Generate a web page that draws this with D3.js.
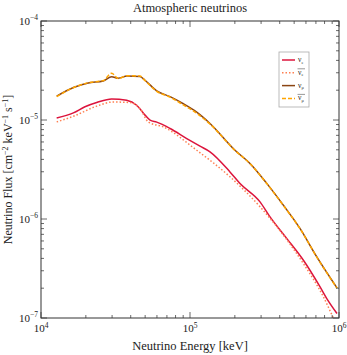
<!DOCTYPE html>
<html>
<head>
<meta charset="utf-8">
<script src="https://cdn.jsdelivr.net/npm/d3@7"></script>
<style>
body { margin: 0; background: #fff; }
text { font-family: "Liberation Serif", "DejaVu Serif", serif; fill: #222; }
</style>
</head>
<body>
<div id="chart"></div>
<script>
// values (energy in keV, flux in cm^-2 keV^-1 s^-1)
var energyMu = [12740, 16500, 20760, 26170, 29800, 33000, 37800, 46100, 49900, 59800, 73500,
    90200, 110900, 136200, 200400, 252700, 327500, 423000, 547000, 708000, 970000];
var fluxNuMu = [1.74e-5, 2.13e-5, 2.37e-5, 2.48e-5, 2.74e-5, 2.64e-5, 2.78e-5, 2.75e-5, 2.52e-5, 1.97e-5, 1.72e-5,
    1.46e-5, 1.20e-5, 9.23e-6, 4.95e-6, 3.64e-6, 2.29e-6, 1.38e-6, 8.03e-7, 4.16e-7, 2.01e-7];
var fluxNuMuBar = [1.72e-5, 2.12e-5, 2.38e-5, 2.50e-5, 2.97e-5, 2.62e-5, 2.80e-5, 2.78e-5, 2.50e-5, 1.95e-5, 1.70e-5,
    1.42e-5, 1.17e-5, 9.10e-6, 4.92e-6, 3.62e-6, 2.28e-6, 1.37e-6, 8.0e-7, 4.14e-7, 2.0e-7];

var energyE = [12740, 16500, 19720, 23660, 29800, 37560, 43850, 49900, 53950, 59800, 73500,
    95100, 116700, 136200, 185400, 216600, 295000, 344500, 445500, 575500, 744700, 826000, 970000];
var fluxNuE = [1.05e-5, 1.18e-5, 1.36e-5, 1.50e-5, 1.63e-5, 1.58e-5, 1.41e-5, 1.12e-5, 9.96e-6, 9.51e-6, 8.21e-6,
    6.50e-6, 5.44e-6, 4.77e-6, 2.99e-6, 2.28e-6, 1.49e-6, 1.05e-6, 6.37e-7, 3.85e-7, 2.07e-7, 1.58e-7, 1.11e-7];

var energyEBar = [12740, 16500, 23660, 30400, 39500, 46100, 52500, 66200, 110900, 185400, 295000,
    423000, 575500, 785000, 916000];
var fluxNuEBar = [9.57e-6, 1.09e-5, 1.38e-5, 1.52e-5, 1.50e-5, 1.31e-5, 9.57e-6, 8.51e-6, 4.95e-6, 2.67e-6, 1.33e-6,
    6.89e-7, 3.56e-7, 1.64e-7, 1.0e-7];

var series = [
    {name: "e", bar: false, x: energyE, y: fluxNuE, color: "#dc143c", dash: null, width: 1.5},
    {name: "e", bar: true, x: energyEBar, y: fluxNuEBar, color: "#ff7f50", dash: "1.5,2", width: 1.5},
    {name: "\u03bc", bar: false, x: energyMu, y: fluxNuMu, color: "#8b4513", dash: null, width: 1.5},
    {name: "\u03bc", bar: true, x: energyMu, y: fluxNuMuBar, color: "#ffa500", dash: "4,2", width: 1.5}
];

var W = 347, H = 355;
var m = {left: 41, right: 8, top: 21, bottom: 37};

var svg = d3.select("#chart").append("svg")
    .attr("width", W)
    .attr("height", H);

var x = d3.scaleLog().domain([1e4, 1e6]).range([m.left, W - m.right]);
var y = d3.scaleLog().domain([1e-7, 1e-4]).range([H - m.bottom, m.top]);

var x0 = x.range()[0], x1 = x.range()[1];
var y0 = y.range()[0], y1 = y.range()[1];

// curves
var line = d3.line().curve(d3.curveMonotoneX);
series.forEach(function(s) {
    var pts = s.x.map(function(e, i) { return [x(e), y(s.y[i])]; });
    svg.append("path")
        .attr("d", line(pts))
        .attr("fill", "none")
        .attr("stroke", s.color)
        .attr("stroke-width", s.width)
        .attr("stroke-dasharray", s.dash);
});

// ticks, all pointing inwards on the four sides
var ticks = svg.append("g").attr("stroke", "#444").attr("stroke-width", 0.8);
function minors(lo, hi) {
    var out = [];
    for (var k = lo; k < hi; k++)
        for (var j = 1; j < 10; j++) out.push({v: j * Math.pow(10, k), major: j === 1});
    out.push({v: Math.pow(10, hi), major: true});
    return out;
}
minors(4, 6).forEach(function(t) {
    var len = t.major ? 6 : 3;
    ticks.append("line").attr("x1", x(t.v)).attr("x2", x(t.v)).attr("y1", y0).attr("y2", y0 - len);
    ticks.append("line").attr("x1", x(t.v)).attr("x2", x(t.v)).attr("y1", y1).attr("y2", y1 + len);
});
minors(-7, -4).forEach(function(t) {
    var len = t.major ? 6 : 3;
    ticks.append("line").attr("y1", y(t.v)).attr("y2", y(t.v)).attr("x1", x0).attr("x2", x0 + len);
    ticks.append("line").attr("y1", y(t.v)).attr("y2", y(t.v)).attr("x1", x1).attr("x2", x1 - len);
});

svg.append("rect")
    .attr("x", x0).attr("y", y1)
    .attr("width", x1 - x0).attr("height", y0 - y1)
    .attr("fill", "none").attr("stroke", "#333").attr("stroke-width", 1);

// tick labels
function powLabel(sel, exp) {
    sel.append("tspan").text("10");
    sel.append("tspan").attr("dy", -4.5).attr("font-size", 7.5).text(exp);
}
[4, 5, 6].forEach(function(k) {
    var t = svg.append("text").attr("x", x(Math.pow(10, k))).attr("y", y0 + 14)
        .attr("text-anchor", "middle").attr("font-size", 11);
    powLabel(t, k);
});
[-7, -6, -5, -4].forEach(function(k) {
    var t = svg.append("text").attr("x", x0 - 3).attr("y", y(Math.pow(10, k)) + 3.5)
        .attr("text-anchor", "end").attr("font-size", 11);
    powLabel(t, "\u2212" + (-k));
});

// titles
svg.append("text").attr("x", (x0 + x1) / 2).attr("y", 12)
    .attr("text-anchor", "middle").attr("font-size", 12.5).text("Atmospheric neutrinos");
svg.append("text").attr("x", (x0 + x1) / 2).attr("y", 350)
    .attr("text-anchor", "middle").attr("font-size", 12.5).text("Neutrino Energy [keV]");

var yl = svg.append("text")
    .attr("transform", "translate(12," + ((y0 + y1) / 2) + ") rotate(-90)")
    .attr("text-anchor", "middle").attr("font-size", 12);
yl.append("tspan").text("Neutrino Flux [cm");
yl.append("tspan").attr("dy", -4.5).attr("font-size", 8).text("\u22122");
yl.append("tspan").attr("dy", 4.5).text(" keV");
yl.append("tspan").attr("dy", -4.5).attr("font-size", 8).text("\u22121");
yl.append("tspan").attr("dy", 4.5).text(" s");
yl.append("tspan").attr("dy", -4.5).attr("font-size", 8).text("\u22121");
yl.append("tspan").attr("dy", 4.5).text("]");

// legend
var lg = svg.append("g").attr("transform", "translate(279,52)");
lg.append("rect").attr("width", 30).attr("height", 55)
    .attr("fill", "#fff").attr("stroke", "#aaa").attr("stroke-width", 0.8);
series.forEach(function(s, i) {
    var yy = 8 + i * 12.8;
    lg.append("line").attr("x1", 3).attr("x2", 16).attr("y1", yy).attr("y2", yy)
        .attr("stroke", s.color).attr("stroke-width", s.width).attr("stroke-dasharray", s.dash);
    var t = lg.append("text").attr("x", 19).attr("y", yy + 2).attr("font-size", 7.5);
    t.append("tspan").text("\u03bd");
    t.append("tspan").attr("dy", 1.5).attr("font-size", 4.5).text(s.name);
    if (s.bar) {
        lg.append("line").attr("x1", 18.5).attr("x2", 26).attr("y1", yy - 4).attr("y2", yy - 4)
            .attr("stroke", "#333").attr("stroke-width", 0.5);
    }
});
</script>
</body>
</html>
